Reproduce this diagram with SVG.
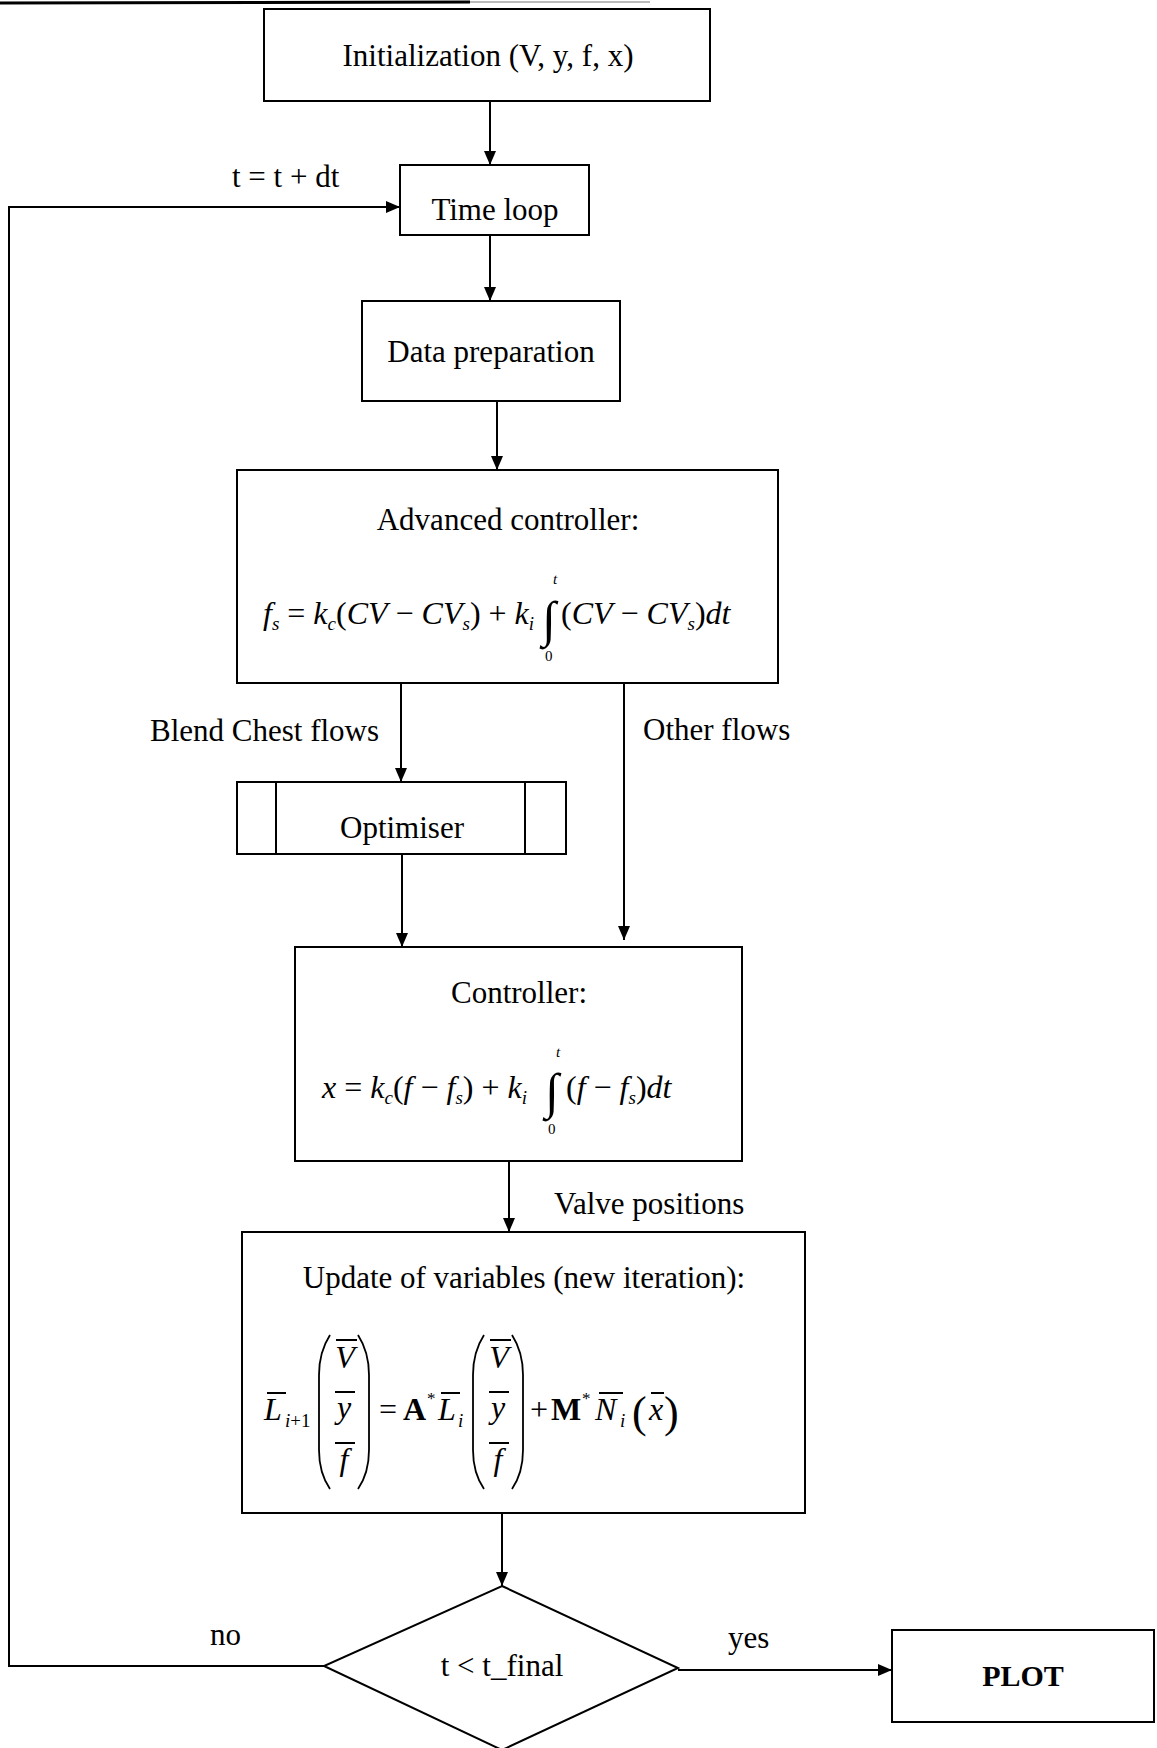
<svg xmlns="http://www.w3.org/2000/svg" width="1157" height="1748" viewBox="0 0 1157 1748">
<defs>
<marker id="ah" viewBox="0 0 14 12" refX="14" refY="6" markerWidth="14" markerHeight="12" markerUnits="userSpaceOnUse" orient="auto">
<path d="M0,0 L14,6 L0,12 Z" fill="#000"/>
</marker>
<style>
.box{fill:#fff;stroke:#000;stroke-width:2}
.t{font-family:"Liberation Serif","Times New Roman",serif;font-size:31px;fill:#000}
.c{text-anchor:middle}
.m{font-family:"Liberation Serif","Times New Roman",serif;font-size:32px;font-style:italic;fill:#000}
.up{font-style:normal}
.sb{font-size:19px}
.lim{font-family:"Liberation Serif","Times New Roman",serif;font-size:15px;fill:#000}
.int{font-family:"Liberation Serif","Times New Roman",serif;font-size:50px;fill:#000}
.conn{fill:none;stroke:#000;stroke-width:2}
.bar{stroke:#000;stroke-width:2}
.par{fill:none;stroke:#000;stroke-width:1.8}
</style>
</defs>
<rect width="1157" height="1748" fill="#fff"/>
<line x1="0" y1="3" x2="470" y2="2" stroke="#000" stroke-width="3"/>
<line x1="470" y1="2" x2="650" y2="2" stroke="#bbb" stroke-width="2"/>

<g id="connectors">
<line class="conn" x1="490" y1="101" x2="490" y2="165" marker-end="url(#ah)"/>
<line class="conn" x1="490" y1="235" x2="490" y2="301" marker-end="url(#ah)"/>
<line class="conn" x1="497" y1="401" x2="497" y2="470" marker-end="url(#ah)"/>
<line class="conn" x1="401" y1="683" x2="401" y2="782" marker-end="url(#ah)"/>
<line class="conn" x1="624" y1="683" x2="624" y2="940" marker-end="url(#ah)"/>
<line class="conn" x1="402" y1="854" x2="402" y2="947" marker-end="url(#ah)"/>
<line class="conn" x1="509" y1="1161" x2="509" y2="1232" marker-end="url(#ah)"/>
<line class="conn" x1="502" y1="1513" x2="502" y2="1586" marker-end="url(#ah)"/>
<line class="conn" x1="678" y1="1670" x2="892" y2="1670" marker-end="url(#ah)"/>
<polyline class="conn" points="324,1666 9,1666 9,207 400,207" marker-end="url(#ah)"/>
<text class="t" x="232" y="187">t = t + dt</text>
<text class="t" x="150" y="741">Blend Chest flows</text>
<text class="t" x="643" y="740">Other flows</text>
<text class="t" x="554" y="1214">Valve positions</text>
<text class="t" x="210" y="1645">no</text>
<text class="t" x="728" y="1648">yes</text>
</g>

<g id="init">
<rect class="box" x="264" y="9" width="446" height="92"/>
<text class="t c" x="488" y="66">Initialization (V, y, f, x)</text>
</g>

<g id="timeloop">
<rect class="box" x="400" y="165" width="189" height="70"/>
<text class="t c" x="495" y="220">Time loop</text>
</g>

<g id="dataprep">
<rect class="box" x="362" y="301" width="258" height="100"/>
<text class="t c" x="491" y="362">Data preparation</text>
</g>

<g id="advanced">
<rect class="box" x="237" y="470" width="541" height="213"/>
<text class="t c" x="508" y="530">Advanced controller:</text>
<text class="m" x="263" y="624">f<tspan class="sb" dy="6">s</tspan><tspan class="up" dy="-6"> = </tspan>k<tspan class="sb" dy="6">c</tspan><tspan class="up" dy="-6">(</tspan>CV<tspan class="up"> − </tspan>CV<tspan class="sb" dy="6">s</tspan><tspan class="up" dy="-6">) + </tspan>k<tspan class="sb" dy="6">i</tspan></text>
<text class="int" x="542" y="636">∫</text>
<text class="lim" x="553" y="584" font-style="italic">t</text>
<text class="lim" x="545" y="661">0</text>
<text class="m" x="561" y="624"><tspan class="up">(</tspan>CV<tspan class="up"> − </tspan>CV<tspan class="sb" dy="6">s</tspan><tspan class="up" dy="-6">)</tspan>dt</text>
</g>

<g id="optimiser">
<rect class="box" x="237" y="782" width="329" height="72"/>
<line class="bar" x1="276" y1="782" x2="276" y2="854"/>
<line class="bar" x1="525" y1="782" x2="525" y2="854"/>
<text class="t c" x="402" y="838">Optimiser</text>
</g>

<g id="controller">
<rect class="box" x="295" y="947" width="447" height="214"/>
<text class="t c" x="519" y="1003">Controller:</text>
<text class="m" x="322" y="1098">x<tspan class="up"> = </tspan>k<tspan class="sb" dy="6">c</tspan><tspan class="up" dy="-6">(</tspan>f<tspan class="up"> − </tspan>f<tspan class="sb" dy="6">s</tspan><tspan class="up" dy="-6">) + </tspan>k<tspan class="sb" dy="6">i</tspan></text>
<text class="int" x="545" y="1108">∫</text>
<text class="lim" x="556" y="1057" font-style="italic">t</text>
<text class="lim" x="548" y="1134">0</text>
<text class="m" x="566" y="1098"><tspan class="up">(</tspan>f<tspan class="up"> − </tspan>f<tspan class="sb" dy="6">s</tspan><tspan class="up" dy="-6">)</tspan>dt</text>
</g>

<g id="update">
<rect class="box" x="242" y="1232" width="563" height="281"/>
<text class="t c" x="524" y="1288">Update of variables (new iteration):</text>
<text class="m" x="264" y="1420">L</text>
<line class="bar" x1="267" y1="1393" x2="286" y2="1393"/>
<text class="m" x="285" y="1427" style="font-size:19px">i<tspan class="up">+1</tspan></text>
<path class="par" d="M330,1335 Q319,1352 319,1375 L319,1450 Q319,1473 330,1489"/>
<path class="par" d="M358,1335 Q369,1352 369,1375 L369,1450 Q369,1473 358,1489"/>
<text class="m c" x="345" y="1368">V</text>
<line class="bar" x1="336" y1="1340" x2="357" y2="1340"/>
<text class="m c" x="344" y="1418">y</text>
<line class="bar" x1="335" y1="1392" x2="355" y2="1392"/>
<text class="m c" x="344" y="1470">f</text>
<line class="bar" x1="335" y1="1443" x2="355" y2="1443"/>
<text class="t" x="379" y="1420" style="font-size:32px">=</text>
<text class="t" x="403" y="1420" style="font-size:32px;font-weight:bold">A</text>
<text class="t" x="427" y="1404" style="font-size:17px">*</text>
<text class="m" x="438" y="1420">L</text>
<line class="bar" x1="441" y1="1393" x2="460" y2="1393"/>
<text class="m" x="458" y="1427" style="font-size:19px">i</text>
<path class="par" d="M484,1335 Q473,1352 473,1375 L473,1450 Q473,1473 484,1489"/>
<path class="par" d="M512,1335 Q523,1352 523,1375 L523,1450 Q523,1473 512,1489"/>
<text class="m c" x="499" y="1368">V</text>
<line class="bar" x1="490" y1="1340" x2="511" y2="1340"/>
<text class="m c" x="498" y="1418">y</text>
<line class="bar" x1="489" y1="1392" x2="509" y2="1392"/>
<text class="m c" x="498" y="1470">f</text>
<line class="bar" x1="489" y1="1443" x2="509" y2="1443"/>
<text class="t" x="530" y="1420" style="font-size:32px">+</text>
<text class="t" x="551" y="1420" style="font-size:32px;font-weight:bold">M</text>
<text class="t" x="582" y="1404" style="font-size:17px">*</text>
<text class="m" x="595" y="1420">N</text>
<line class="bar" x1="599" y1="1393" x2="623" y2="1393"/>
<text class="m" x="620" y="1427" style="font-size:19px">i</text>
<text class="t" x="632" y="1427" style="font-size:44px">(</text>
<text class="m" x="649" y="1420">x</text>
<line class="bar" x1="651" y1="1393" x2="664" y2="1393"/>
<text class="t" x="664" y="1427" style="font-size:44px">)</text>
</g>

<g id="decision">
<polygon points="502,1586 678,1668 502,1750 324,1666" fill="#fff" stroke="#000" stroke-width="2"/>
<text class="t c" x="502" y="1676">t &lt; t_final</text>
</g>

<g id="plot">
<rect class="box" x="892" y="1630" width="262" height="92"/>
<text class="t c" x="1023" y="1686" style="font-size:30px;font-weight:bold">PLOT</text>
</g>
</svg>
